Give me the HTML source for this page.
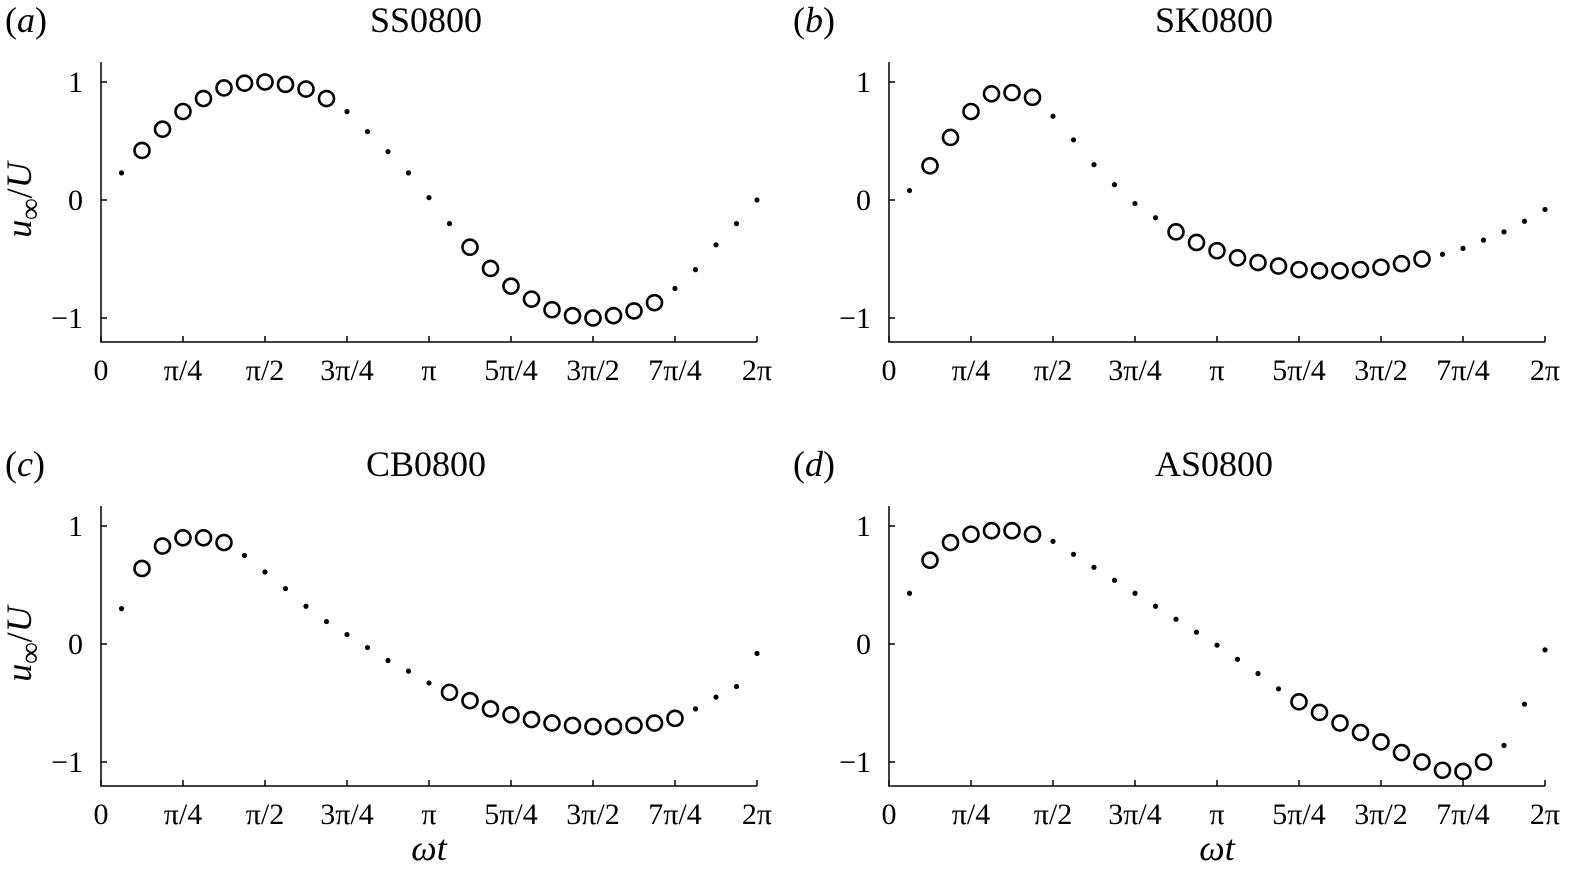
<!DOCTYPE html>
<html><head><meta charset="utf-8"><style>
body{margin:0;background:#fff}
svg text{font-family:"Liberation Serif",serif;fill:#000}
</style></head><body>
<svg id="fig" width="1583" height="882" xmlns="http://www.w3.org/2000/svg"></svg>
<script>
const xTickLabels=["0","π/4","π/2","3π/4","π","5π/4","3π/2","7π/4","2π"];
const yTickValues=[-1,0,1];
const yTickLabels=["−1","0","1"];
const titles=["SS0800","SK0800","CB0800","AS0800"];
const panelTags=["a","b","c","d"];
const seriesA=[0.23,0.42,0.6,0.75,0.86,0.95,0.99,1.0,0.98,0.94,0.86,0.75,0.58,0.41,0.23,0.02,-0.2,-0.4,-0.58,-0.73,-0.84,-0.93,-0.98,-1.0,-0.98,-0.94,-0.87,-0.75,-0.59,-0.38,-0.2,0.0];
const seriesB=[0.08,0.29,0.53,0.75,0.9,0.91,0.87,0.71,0.51,0.3,0.13,-0.03,-0.15,-0.27,-0.36,-0.43,-0.49,-0.53,-0.56,-0.59,-0.6,-0.6,-0.59,-0.57,-0.54,-0.5,-0.46,-0.41,-0.34,-0.27,-0.18,-0.08];
const seriesC=[0.3,0.64,0.83,0.9,0.9,0.86,0.75,0.61,0.47,0.32,0.19,0.08,-0.03,-0.14,-0.23,-0.33,-0.41,-0.48,-0.55,-0.6,-0.64,-0.67,-0.69,-0.7,-0.7,-0.69,-0.67,-0.63,-0.55,-0.45,-0.36,-0.08];
const seriesD=[0.43,0.71,0.86,0.93,0.96,0.96,0.93,0.87,0.76,0.65,0.54,0.43,0.32,0.21,0.1,-0.01,-0.13,-0.25,-0.38,-0.49,-0.58,-0.67,-0.75,-0.83,-0.92,-1.0,-1.07,-1.08,-1.0,-0.86,-0.51,-0.05];
const circleA=[2,11,18,27], circleB=[2,7,14,26], circleC=[2,6,17,28], circleD=[2,7,20,29];
const allSeries=[seriesA,seriesB,seriesC,seriesD];
const allCircles=[circleA,circleB,circleC,circleD];
const NS="http://www.w3.org/2000/svg";
const svg=document.getElementById('fig');
function mk(t,a,p){const e=document.createElementNS(NS,t);for(const k in a)e.setAttribute(k,a[k]);(p||svg).appendChild(e);return e;}
const panels=[{x0:101,y0:200},{x0:889,y0:200},{x0:101,y0:644},{x0:889,y0:644}];
panels.forEach((P,i)=>{
 const g=mk('g',{});
 
 
 const W=656,S=118;
 const xs=v=>P.x0+v/(2*Math.PI)*W, ys=v=>P.y0-v*S;
 const yb=P.y0+142, yt=P.y0-138;
 const ax=mk('path',{d:`M${P.x0},${yt}V${yb}H${P.x0+W}`,stroke:'#000','stroke-width':1.5,fill:'none'},g);
 
 xTickLabels.forEach((l,j)=>{const x=xs(j*Math.PI/4);
  mk('line',{x1:x,x2:x,y1:yb,y2:yb-6,stroke:'#000','stroke-width':1.5},g);
  const t=mk('text',{x:x,y:yb+38,'font-size':30,'text-anchor':'middle'},g);t.textContent=l;
  });
 yTickValues.forEach((v,j)=>{const y=ys(v);
  mk('line',{x1:P.x0,x2:P.x0+6,y1:y,y2:y,stroke:'#000','stroke-width':1.5},g);
  const t=mk('text',{x:P.x0-18,y:y+10,'font-size':30,'text-anchor':'end'},g);t.textContent=yTickLabels[j];
  });
 const tt=mk('text',{x:P.x0+325,y:P.y0-168,'font-size':36,'text-anchor':'middle'},g);tt.textContent=titles[i];
 
 const tg=mk('text',{x:P.x0-96,y:P.y0-168,'font-size':36},g);
 tg.innerHTML='(<tspan font-style="italic">'+panelTags[i]+'</tspan>)';
 
 if(i%2==0){const yl=mk('text',{transform:`translate(${P.x0-70},${P.y0}) rotate(-90)`,'font-size':36,'text-anchor':'middle','font-style':'italic'},g);
  yl.innerHTML='u<tspan font-size="30" dy="9">∞</tspan><tspan dy="-9" font-style="normal">/</tspan>U';
  }
 if(i>=2){const xl=mk('text',{x:P.x0+328,y:yb+74,'font-size':36,'text-anchor':'middle','font-style':'italic'},g);xl.textContent='ωt';
  }
 const s=allSeries[i],c=allCircles[i];
 s.forEach((v,k)=>{const n=k+1,x=xs(n*2*Math.PI/32),y=ys(v);
  const isC=(n>=c[0]&&n<=c[1])||(n>=c[2]&&n<=c[3]);
  const m=isC?mk('circle',{cx:x,cy:y,r:7.5,fill:'none',stroke:'#000','stroke-width':2.6},g):mk('circle',{cx:x,cy:y,r:2.6,fill:'#000'},g);
  
  });
});
</script>
</body></html>
